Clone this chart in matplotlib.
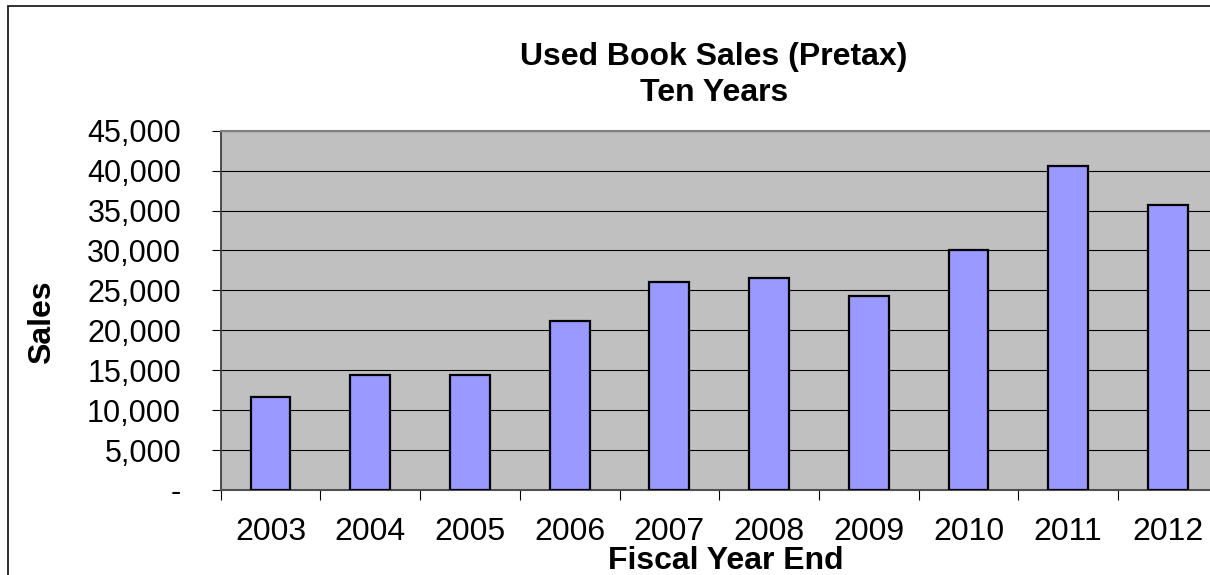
import matplotlib
matplotlib.use("Agg")
import matplotlib.pyplot as plt
from matplotlib.patches import Rectangle
from matplotlib.ticker import FuncFormatter, FixedLocator

plt.rcParams['font.family'] = ['Liberation Sans', 'DejaVu Sans']

# data
years = ['2003', '2004', '2005', '2006', '2007', '2008', '2009', '2010', '2011', '2012']
sales = [11600, 14350, 14400, 21200, 26000, 26600, 24300, 30100, 40600, 35750]
y_ticks = [0, 5000, 10000, 15000, 20000, 25000, 30000, 35000, 40000, 45000]

W, H = 1210, 575
fig = plt.figure(figsize=(W / 100, H / 100), dpi=100)

# chart area border (runs off the right and bottom edges)
fig.patches.append(Rectangle((8 / W, -0.1), 1.2, 1.1 - 6 / H, transform=fig.transFigure,
                             fill=False, edgecolor='#202020', linewidth=1.3))

# plot area: extends slightly beyond the right edge like the original
ax = fig.add_axes([220.7 / W, 85 / H, 997 / W, 359.3 / H])
ax.set_facecolor('#C0C0C0')

x = list(range(len(years)))
ax.bar(x, sales, width=0.4, color='#9999FF', edgecolor='black', linewidth=1.6, zorder=3)

ax.set_xlim(-0.5, len(years) - 0.5)
ax.set_ylim(0, 45000)

# horizontal grid lines
ax.yaxis.set_major_locator(FixedLocator(y_ticks))
ax.yaxis.grid(True, color='black', linewidth=0.8, zorder=1)
ax.set_axisbelow(True)

ax.yaxis.set_major_formatter(FuncFormatter(lambda v, p: '-' if v == 0 else f'{v:,.0f}'))
ax.tick_params(axis='y', direction='out', length=6.5, width=0.8, pad=22, labelsize=22, colors='black')

# x: labels at the centres, tick marks at the category boundaries
ax.set_xticks(x)
ax.set_xticklabels(years)
ax.set_xticks([i - 0.5 for i in range(len(years) + 1)], minor=True)
ax.tick_params(axis='x', which='major', length=0, pad=19.5, labelsize=23)
ax.tick_params(axis='x', which='minor', direction='out', length=7.2, width=0.8, color='black')

for side in ['top', 'right']:
    ax.spines[side].set_color('#808080')
    ax.spines[side].set_linewidth(1.5)
ax.spines['left'].set_color('#404040')
ax.spines['left'].set_linewidth(1.3)
ax.spines['bottom'].set_color('#505050')
ax.spines['bottom'].set_linewidth(1.5)

# titles
fig.text(714 / W, 1 - 65 / H, 'Used Book Sales (Pretax)', ha='center', va='baseline',
         fontsize=23, fontweight='bold')
fig.text(714 / W, 1 - 100.7 / H, 'Ten Years', ha='center', va='baseline',
         fontsize=23, fontweight='bold')
fig.text(726 / W, 1 - 569 / H, 'Fiscal Year End', ha='center', va='baseline',
         fontsize=23, fontweight='bold')
fig.text(41.7 / W, 1 - 322 / H, 'Sales', ha='center', va='center', rotation=90,
         fontsize=23, fontweight='bold')

fig.savefig('out.png', dpi=100)
